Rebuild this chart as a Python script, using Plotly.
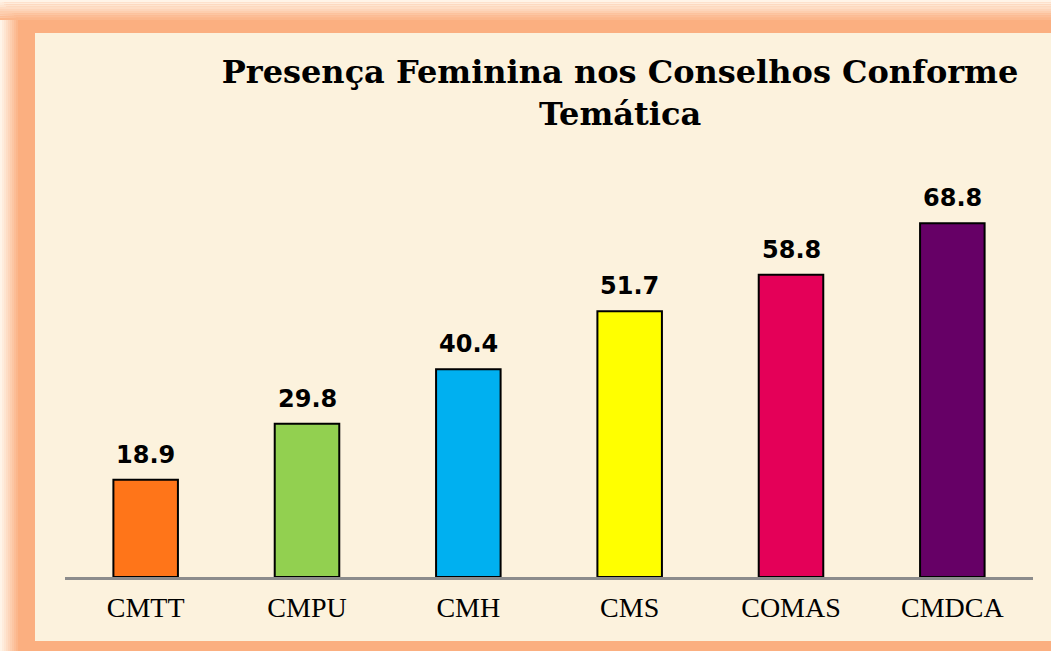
import plotly.graph_objects as go

categories = ["CMTT", "CMPU", "CMH", "CMS", "COMAS", "CMDCA"]
values = [18.9, 29.8, 40.4, 51.7, 58.8, 68.8]
bar_colors = ["#FF7519", "#92D050", "#00B0F0", "#FFFF00", "#E40058", "#660066"]
title_text = "Presença Feminina nos Conselhos Conforme<br>Temática"

W, H = 1051, 651
ML, MR, MT, MB = 65, 18, 140, 74
PW = W - ML - MR
PH = H - MT - MB


def px(x):
    return (x - ML) / PW


def py(y):
    return (H - MB - y) / PH


def lerp(c1, c2, t):
    a = [int(c1[i:i + 2], 16) for i in (1, 3, 5)]
    b = [int(c2[i:i + 2], 16) for i in (1, 3, 5)]
    return "rgb(%d,%d,%d)" % tuple(round(a[k] + (b[k] - a[k]) * t) for k in range(3))


LIGHT = "#FFF4E8"
ORANGE = "#FBAF80"
PARCH = "#FCF2DD"

shapes = []


def rect(x0, y0, x1, y1, color):
    shapes.append(dict(type="rect", xref="paper", yref="paper",
                       x0=px(x0), x1=px(x1), y0=py(y1), y1=py(y0),
                       fillcolor=color, line=dict(width=0), layer="below"))


# frame: solid orange then gradients
rect(0, 0, W, H, ORANGE)
steps = 9
for i in range(steps):
    t = i / steps
    c = lerp(LIGHT, ORANGE, t)
    rect(0, i * 20 / steps, W, (i + 1) * 20 / steps, c)
    rect(i * 18 / steps, i * 20 / steps, (i + 1) * 18 / steps, H, c)
rect(35, 33, W, 641, PARCH)

fig = go.Figure()
fig.add_trace(go.Bar(
    x=categories, y=values,
    marker=dict(color=bar_colors, line=dict(color="#000000", width=2)),
    width=0.4, hoverinfo="x+y",
))

annotations = []
for c, v in zip(categories, values):
    annotations.append(dict(
        x=c, y=v, xref="x", yref="y", text=f"<b>{v}</b>", showarrow=False,
        yanchor="bottom", yshift=9,
        font=dict(family="DejaVu Sans", size=24, color="#000000"),
    ))

fig.update_layout(
    width=W, height=H,
    margin=dict(l=ML, r=MR, t=MT, b=MB),
    paper_bgcolor=LIGHT,
    plot_bgcolor="rgba(0,0,0,0)",
    shapes=shapes,
    annotations=annotations,
    showlegend=False,
    title=dict(
        text=f"<b>{title_text}</b>",
        x=620 / W, xref="container", xanchor="center",
        y=1 - 83 / H, yref="container", yanchor="top",
        font=dict(family="DejaVu Serif", size=32, color="#000000"),
    ),
    xaxis=dict(
        showline=True, linecolor="#8C8C8C", linewidth=2.5,
        showgrid=False, ticks="", ticklabelstandoff=4,
        tickfont=dict(family="Liberation Serif", size=28, color="#000000"),
        fixedrange=True,
    ),
    yaxis=dict(
        range=[0, 85], visible=False, showgrid=False, zeroline=False,
        fixedrange=True,
    ),
)

fig.write_html("out.html", config={"displayModeBar": False},
               post_script="document.body.style.margin='0';")
